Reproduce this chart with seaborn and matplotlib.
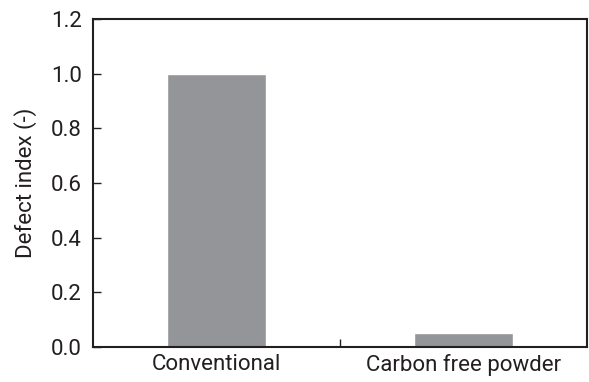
import matplotlib
matplotlib.use("Agg")
import matplotlib.pyplot as plt
import seaborn as sns
import pandas as pd
from matplotlib.ticker import FixedLocator

# === Daten ===
categories = ["Conventional", "Carbon free powder"]
defect_index = [1.0, 0.05]
y_ticks = [0.0, 0.2, 0.4, 0.6, 0.8, 1.0, 1.2]

sns.set_style("ticks")
plt.rcParams['font.family'] = ['Roboto', 'DejaVu Sans']

df = pd.DataFrame({"category": categories, "value": defect_index})

fig, ax = plt.subplots(figsize=(5.89, 3.82), dpi=100)
fig.subplots_adjust(left=0.158, right=0.997, top=0.95, bottom=0.092)

sns.barplot(data=df, x="category", y="value", color="#939598", width=0.4,
            saturation=1, ax=ax)

ax.set_xlim(-0.5, 1.5)
ax.set_ylim(0, 1.2)
ax.set_yticks(y_ticks)
ax.set_yticklabels([f"{t:.1f}" for t in y_ticks])
ax.set_xlabel("")
ax.set_ylabel("Defect index (-)", fontsize=16, color="#231f20", labelpad=10)

ax.xaxis.set_minor_locator(FixedLocator([0.5]))
ax.tick_params(axis="x", which="major", length=0, pad=5, labelsize=16, labelcolor="#231f20")
ax.tick_params(axis="x", which="minor", direction="in", length=6, width=1, color="#231f20")
ax.tick_params(axis="y", direction="in", length=6, width=1, pad=8, labelsize=16,
               labelcolor="#231f20", color="#231f20")

for spine in ax.spines.values():
    spine.set_visible(True)
    spine.set_linewidth(1.5)
    spine.set_color("#231f20")

plt.savefig("out.png", dpi=100)
plt.close()
